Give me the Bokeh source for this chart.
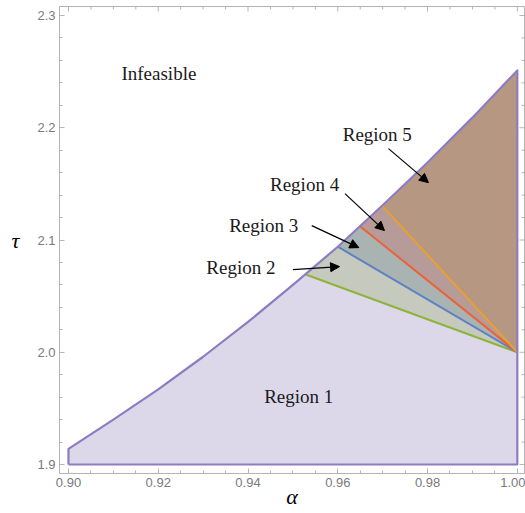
import numpy as np
from bokeh.plotting import figure
from bokeh.models import (Arrow, NormalHead, SingleIntervalTicker, LinearAxis,
                          NumeralTickFormatter, Range1d, Label)
from bokeh.core.properties import value
from bokeh.embed import file_html
from bokeh.resources import INLINE

# Feasibility boundary
alpha_curve = [0.900, 0.910, 0.920, 0.930, 0.940, 0.950, 0.960, 0.970, 0.980, 0.990, 1.000]
tau_curve = [1.914, 1.940, 1.967, 1.996, 2.027, 2.060, 2.094, 2.131, 2.169, 2.209, 2.251]

# Region boundary lines: start points on the curve, all end at (1.0, 2.0)
bound_names = ["green", "blue", "red", "orange"]
bound_alpha = [0.953, 0.960, 0.965, 0.970]
bound_tau = [2.069, 2.094, 2.112, 2.130]
end_alpha, end_tau = 1.0, 2.0
bottom_tau = 1.9

# Labels
label_text = ["Infeasible", "Region 1", "Region 2", "Region 3", "Region 4", "Region 5"]
label_alpha = [0.9118, 0.9436, 0.9307, 0.9358, 0.9449, 0.9611]
label_tau = [2.248, 1.9606, 2.0754, 2.1128, 2.149, 2.194]

# Arrows (start -> tip)
arrow_x0 = [0.9500, 0.9542, 0.9616, 0.9713]
arrow_y0 = [2.0736, 2.1128, 2.1413, 2.1814]
arrow_x1 = [0.9604, 0.9647, 0.9704, 0.9802]
arrow_y1 = [2.0763, 2.0932, 2.1084, 2.1511]

# Axis ranges and ticks
x_lo, x_hi = 0.898, 1.0016
y_lo, y_hi = 1.892, 2.308
x_major = [0.90, 0.92, 0.94, 0.96, 0.98, 1.00]
y_major = [1.9, 2.0, 2.1, 2.2, 2.3]

line_colors = ["#8db43a", "#5c82c4", "#ea6338", "#e9a030"]
fill_colors = ["#c6c9bd", "#a9b3b2", "#b69b98", "#b59782"]
outline_color = "#8e7cc3"
region1_fill = "#dcd8ea"
frame_color = "#b4b4b4"
tick_text_color = "#7a7a7a"

p = figure(width=525, height=513,
           x_range=Range1d(x_lo, x_hi), y_range=Range1d(y_lo, y_hi),
           output_backend="svg", toolbar_location=None,
           x_axis_location=None, y_axis_location=None,
           min_border_left=59, min_border_right=1, min_border_top=6, min_border_bottom=40)
p.grid.visible = False
p.outline_line_color = frame_color
p.background_fill_color = "white"


def make_axis(interval, minors, fmt):
    ax = LinearAxis(ticker=SingleIntervalTicker(interval=interval, num_minor_ticks=minors),
                    formatter=NumeralTickFormatter(format=fmt))
    ax.axis_line_color = frame_color
    ax.major_tick_line_color = frame_color
    ax.minor_tick_line_color = frame_color
    ax.major_tick_in = 5
    ax.major_tick_out = 0
    ax.minor_tick_in = 3
    ax.minor_tick_out = 0
    ax.major_label_text_font = "Liberation Sans"
    ax.major_label_text_font_size = "13px"
    ax.major_label_text_color = tick_text_color
    ax.major_label_standoff = 4
    ax.axis_label_text_font = "Liberation Serif"
    ax.axis_label_text_font_style = "italic"
    ax.axis_label_text_font_size = "22px"
    ax.axis_label_text_color = "black"
    return ax


xb = make_axis(0.02, 4, "0.00")
xb.axis_label = "α"
xb.axis_label_standoff = -6
p.add_layout(xb, "below")

yl = make_axis(0.1, 5, "0.0")
tau_as_axis = True
try:
    yl.axis_label_orientation = "horizontal"
    yl.axis_label = "τ"
    yl.axis_label_standoff = 15
except Exception:
    tau_as_axis = False
p.add_layout(yl, "left")
if not tau_as_axis:
    p.add_layout(Label(x=0.8878, y=2.0995, text="τ", text_font="Liberation Serif",
                       text_font_style="italic", text_font_size="22px",
                       text_align="center", text_baseline="middle"))

# Mirrored ticks on the top and right frame edges
x_minor = [v for v in np.arange(0.900, 1.0001, 0.005) if min(abs(v - m) for m in x_major) > 1e-6]
y_minor = [v for v in np.arange(1.90, 2.3001, 0.02) if min(abs(v - m) for m in y_major) > 1e-6]
p.ray(x=x_major, y=[y_hi] * len(x_major), length=5, length_units="screen",
      angle=-np.pi / 2, line_color=frame_color, line_width=1)
p.ray(x=x_minor, y=[y_hi] * len(x_minor), length=3, length_units="screen",
      angle=-np.pi / 2, line_color=frame_color, line_width=1)
p.ray(x=[x_hi] * len(y_major), y=y_major, length=5, length_units="screen",
      angle=np.pi, line_color=frame_color, line_width=1)
p.ray(x=[x_hi] * len(y_minor), y=y_minor, length=3, length_units="screen",
      angle=np.pi, line_color=frame_color, line_width=1)

# Region 1 (whole feasible area)
r1x = [alpha_curve[0]] + alpha_curve + [alpha_curve[-1]]
r1y = [bottom_tau] + tau_curve + [bottom_tau]
p.patch(r1x, r1y, fill_color=region1_fill, line_color=None)


def curve_between(a0, a1):
    xs, ys = [], []
    for a, t in zip(alpha_curve, tau_curve):
        if a0 < a < a1:
            xs.append(a)
            ys.append(t)
    return xs, ys


# Regions 2..5
starts = list(zip(bound_alpha, bound_tau)) + [(alpha_curve[-1], tau_curve[-1])]
for i in range(4):
    a0, t0 = starts[i]
    a1, t1 = starts[i + 1]
    cx, cy = curve_between(a0, a1)
    xs = [a0] + cx + [a1, end_alpha]
    ys = [t0] + cy + [t1, end_tau]
    p.patch(xs, ys, fill_color=fill_colors[i], line_color=None)

# Boundary lines
for i in range(4):
    p.line([bound_alpha[i], end_alpha], [bound_tau[i], end_tau],
           line_color=line_colors[i], line_width=2)

# Outline of region 1
ox = [alpha_curve[0], alpha_curve[0]] + alpha_curve + [alpha_curve[-1], alpha_curve[0]]
oy = [bottom_tau, tau_curve[0]] + tau_curve + [bottom_tau, bottom_tau]
p.line(ox, oy, line_color=outline_color, line_width=2.2, line_join="round")

# Labels
p.text(x=label_alpha, y=label_tau, text=label_text,
       text_font=value("Liberation Serif"), text_font_size="19px",
       text_align="left", text_baseline="middle", text_color="#1a1a1a")

# Arrows
for x0, y0, x1, y1 in zip(arrow_x0, arrow_y0, arrow_x1, arrow_y1):
    p.add_layout(Arrow(x_start=x0, y_start=y0, x_end=x1, y_end=y1,
                       line_color="black", line_width=1.2,
                       end=NormalHead(size=9, fill_color="black", line_color="black")))

open("out.html", "w").write(file_html(p, INLINE))
